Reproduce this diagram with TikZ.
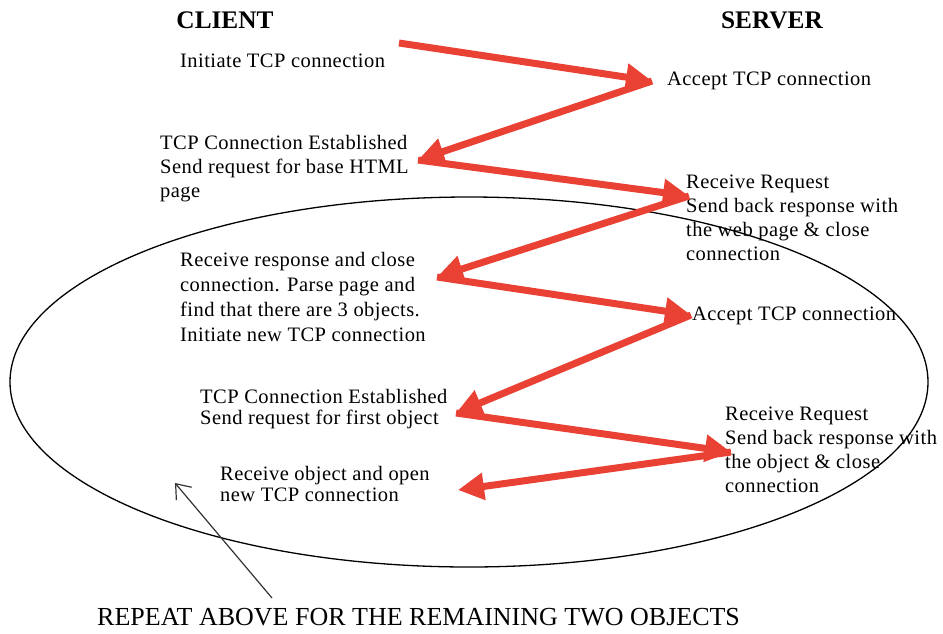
\documentclass[tikz,border=0pt]{standalone}
\usepackage{fontspec}
\setmainfont{Liberation Serif}
\newfontfamily\lblfont[LetterSpace=2.2]{Liberation Serif}
\usetikzlibrary{arrows.meta}
\definecolor{arrred}{RGB}{233,66,53}
\tikzset{
  lbl/.style={anchor=north west, inner sep=0pt, align=left, font=\lblfont\fontsize{20.5}{24}\selectfont},
  lbltight/.style={lbl, font=\lblfont\fontsize{20.5}{21.5}\selectfont},
  ttl/.style={anchor=center, inner sep=0pt, font=\fontsize{25.3}{30}\selectfont\bfseries},
  redarrow/.style={draw=arrred, line width=7pt, -{Triangle[length=26pt,width=26pt]}},
  pointer/.style={draw=black!80, line width=1.2pt, -{Straight Barb[length=13pt,width=20pt,line width=1.2pt]}},
}
\begin{document}
\begin{tikzpicture}[x=1pt,y=-1pt]
\useasboundingbox (0,0) rectangle (943,633);
% titles
\node[ttl] (client) at (225,20) {CLIENT};
\node[ttl] (server) at (772,20) {SERVER};
% ellipse
\draw[line width=1.3pt] (469,382) ellipse [x radius=459, y radius=185];
% text nodes
\node[lbl] (c1) at (180,54) {Initiate TCP connection};
\node[lbl] (s1) at (667,72) {Accept TCP connection};
\node[lbl] (c2) at (160,135) {TCP Connection Established\\Send request for base HTML\\page};
\node[lbl] (s2) at (686,175) {Receive Request\\Send back response with\\the web page \& close\\connection};
\node[lbl, font=\lblfont\fontsize{20.5}{25}\selectfont] (c3) at (180,252) {Receive response and close\\connection. Parse page and\\find that there are 3 objects.\\Initiate new TCP connection};
\node[lbl] (s3) at (692,307) {Accept TCP connection};
\node[lbltight] (c4) at (200,389) {TCP Connection Established\\Send request for first object};
\node[lbl] (s4) at (725,407) {Receive Request\\Send back response with\\the object \& close\\connection};
\node[lbltight] (c5) at (220,466) {Receive object and open\\new TCP connection};
\node[anchor=base west, inner sep=0pt, font=\fontsize{26}{30}\selectfont] (rep) at (97,625) {REPEAT ABOVE FOR THE REMAINING TWO OBJECTS};
% arrow points
\coordinate (p0) at (399,43);
\coordinate (p1) at (652,81);
\coordinate (p2) at (418,160);
\coordinate (p3) at (689,196);
\coordinate (p4) at (437,277);
\coordinate (p5) at (691,315);
\coordinate (p6) at (456,413);
\coordinate (p7) at (731,452);
\coordinate (p8) at (458,490);
\draw[redarrow] (p0) -- (p1);
\draw[redarrow] (p1) -- (p2);
\draw[redarrow] (p2) -- (p3);
\draw[redarrow] (p3) -- (p4);
\draw[redarrow] (p4) -- (p5);
\draw[redarrow] (p5) -- (p6);
\draw[redarrow] (p6) -- (p7);
\draw[redarrow] (p7) -- (p8);
% pointer
\coordinate (q0) at (272,598);
\coordinate (q1) at (175,483);
\draw[pointer] (q0) -- (q1);
\end{tikzpicture}
\end{document}
